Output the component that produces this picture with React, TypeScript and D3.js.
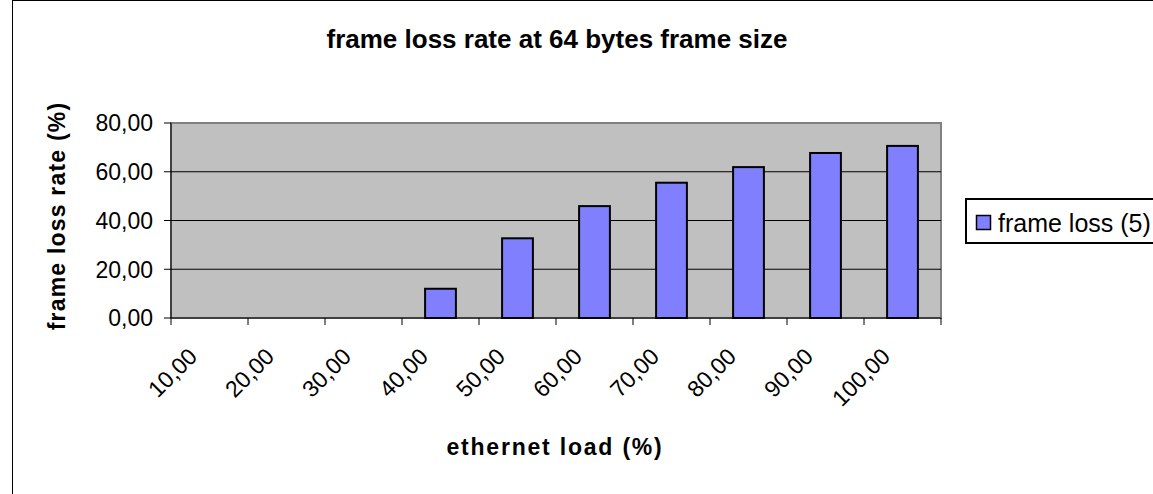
import React from "react";
import * as d3 from "d3";

// ethernet load categories and measured frame loss (%)
const loads = ["10,00", "20,00", "30,00", "40,00", "50,00", "60,00", "70,00", "80,00", "90,00", "100,00"];
const frameLoss = [0, 0, 0, 12.0, 32.7, 45.9, 55.5, 61.9, 67.7, 70.6];
const yTicks = [0, 20, 40, 60, 80];
const seriesName = "frame loss (5)";

const W = 1153;
const H = 494;
const plot = { left: 171, right: 941, top: 123, bottom: 318 };
const font = "'Liberation Sans', Arial, sans-serif";

const fmt = (v: number) => v.toFixed(2).replace(".", ",");

const App: React.FC = () => {
  const x = d3.scaleBand<string>().domain(loads).range([plot.left, plot.right]).padding(0);
  const y = d3.scaleLinear().domain([0, 80]).range([plot.bottom, plot.top]);
  const barW = x.bandwidth() / 2.5;
  const tickEdges = [...loads.map((d) => x(d) as number), plot.right];

  return (
    <svg
      width={W}
      height={H}
      style={{ position: "absolute", left: 0, top: 0, background: "#fff" }}
      fontFamily={font}
    >
      <rect x={12.5} y={0.5} width={W + 20} height={H + 20} fill="#fff" stroke="#000" strokeWidth={1} />

      <text x={557} y={48} textAnchor="middle" fontSize={26} fontWeight="bold" fill="#000">
        frame loss rate at 64 bytes frame size
      </text>

      {/* plot area */}
      <rect
        x={plot.left}
        y={plot.top}
        width={plot.right - plot.left}
        height={plot.bottom - plot.top}
        fill="#C0C0C0"
        stroke="#808080"
        strokeWidth={2}
      />
      {yTicks.slice(1, -1).map((t) => (
        <line key={t} x1={plot.left} x2={plot.right} y1={y(t)} y2={y(t)} stroke="#000" strokeWidth={1} />
      ))}

      {frameLoss.map((v, i) =>
        v > 0 ? (
          <rect
            key={loads[i]}
            x={(x(loads[i]) as number) + (x.bandwidth() - barW) / 2}
            y={y(v)}
            width={barW}
            height={y(0) - y(v)}
            fill="#8080FF"
            stroke="#000"
            strokeWidth={2}
          />
        ) : null
      )}

      {/* axes */}
      <line x1={plot.left} x2={plot.left} y1={plot.top} y2={plot.bottom} stroke="#000" strokeWidth={1} />
      <line x1={plot.left} x2={plot.right} y1={plot.bottom} y2={plot.bottom} stroke="#000" strokeWidth={1} />
      {yTicks.map((t) => (
        <g key={t}>
          <line x1={plot.left - 7} x2={plot.left} y1={y(t)} y2={y(t)} stroke="#000" />
          <text x={153} y={y(t)} dy="0.36em" textAnchor="end" fontSize={23} fill="#000">
            {fmt(t)}
          </text>
        </g>
      ))}
      {tickEdges.map((e, i) => (
        <line key={i} x1={e} x2={e} y1={plot.bottom} y2={plot.bottom + 7} stroke="#000" />
      ))}
      {loads.map((d) => {
        const cx = (x(d) as number) + x.bandwidth() / 2;
        return (
          <text
            key={d}
            transform={`translate(${cx - 11},358) rotate(-45)`}
            textAnchor="end"
            fontSize={23}
            fill="#000"
          >
            {d}
          </text>
        );
      })}

      <text x={555} y={455} textAnchor="middle" fontSize={23} fontWeight="bold" letterSpacing={1.8} fill="#000">
        ethernet load (%)
      </text>
      <text
        transform={`translate(65,216) rotate(-90)`}
        textAnchor="middle"
        fontSize={23}
        fontWeight="bold"
        letterSpacing={1.2}
        fill="#000"
      >
        frame loss rate (%)
      </text>

      {/* legend */}
      <rect x={966} y={199} width={220} height={44} fill="#fff" stroke="#000" strokeWidth={2} />
      <rect x={976.5} y={215.5} width={14} height={14} fill="#8080FF" stroke="#000" strokeWidth={1.5} />
      <text x={998} y={232} fontSize={25} fill="#000">
        {seriesName}
      </text>
    </svg>
  );
};

export default App;
